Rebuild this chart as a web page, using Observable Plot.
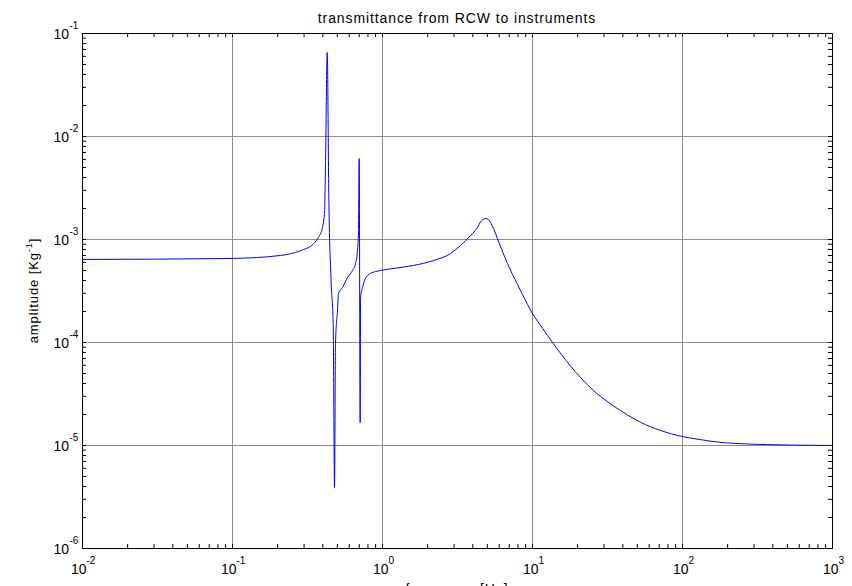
<!DOCTYPE html>
<html>
<head>
<meta charset="utf-8">
<script src="https://cdn.jsdelivr.net/npm/d3@7"></script>
<script src="https://cdn.jsdelivr.net/npm/@observablehq/plot@0.6"></script>
<style>
  html, body { margin: 0; padding: 0; background: #fff; overflow: hidden; }
  #chart svg { display: block; }
</style>
</head>
<body>
<div id="chart"></div>
<script>
// ---- data ----
const freq = [0.01, 0.1, 0.209, 0.284, 0.347, 0.374, 0.398, 0.411, 0.417, 0.428,
  0.439, 0.455, 0.469, 0.479, 0.486, 0.501, 0.509, 0.541, 0.585, 0.631,
  0.661, 0.681, 0.692, 0.699, 0.710, 0.714, 0.736, 0.770, 0.832, 0.97,
  1.18, 1.61, 2.19, 2.84, 3.31, 3.86, 4.30, 4.50, 4.64, 4.86,
  5.09, 5.25, 5.50, 5.84, 6.31, 6.81, 7.36, 7.94, 8.58, 10,
  11.7, 13.6, 17.9, 20.9, 25.5, 28.4, 34.7, 43.0, 52.5, 71.3,
  100, 132, 171, 219, 369, 1000];
const amp = [6.40e-4, 6.55e-4, 7.0e-4, 7.8e-4, 9.1e-4, 1.05e-3, 1.31e-3, 1.91e-3, 5.47e-3, 6.54e-2,
  2.39e-3, 3.74e-4, 1.53e-4, 3.91e-6, 9.8e-5, 2.05e-4, 3.0e-4, 3.42e-4, 4.28e-4, 5.0e-4,
  5.85e-4, 7.8e-4, 1.22e-3, 6.1e-3, 1.67e-5, 2.73e-4, 3.42e-4, 4.18e-4, 4.68e-4, 5.0e-4,
  5.23e-4, 5.6e-4, 6.25e-4, 7.3e-4, 8.75e-4, 1.09e-3, 1.31e-3, 1.48e-3, 1.55e-3, 1.6e-3,
  1.56e-3, 1.46e-3, 1.28e-3, 1.02e-3, 7.64e-4, 5.85e-4, 4.57e-4, 3.66e-4, 2.92e-4, 1.91e-4,
  1.37e-4, 1.0e-4, 5.93e-5, 4.57e-5, 3.42e-5, 3.0e-5, 2.42e-5, 1.98e-5, 1.68e-5, 1.4e-5,
  1.22e-5, 1.14e-5, 1.08e-5, 1.05e-5, 1.02e-5, 1.0e-5];

const xMajor = [1e-2, 1e-1, 1e0, 1e1, 1e2, 1e3];
const xExp = ["-2", "-1", "0", "1", "2", "3"];
const yMajor = [1e-1, 1e-2, 1e-3, 1e-4, 1e-5, 1e-6];
const yExp = ["-1", "-2", "-3", "-4", "-5", "-6"];

const title = "transmittance from RCW to instruments";
const xLabel = "frequency [Hz]";
const yLabelMain = "amplitude [Kg";
const yLabelSup = "-1";
const yLabelEnd = "]";

// ---- layout ----
const W = 852, H = 586;
const mL = 82, mR = 20, mT = 33, mB = 38;
const plotW = W - mL - mR, plotH = H - mT - mB;
const tickLen = 4;
const font = "'Liberation Sans', Arial, Helvetica, sans-serif";

const data = freq.map((f, i) => ({f, a: amp[i]}));
const xDomain = [1e-2, 1e3], yDomain = [1e-6, 1e-1];
const xTicks = d3.scaleLog().domain(xDomain).ticks();
const yTicks = d3.scaleLog().domain(yDomain).ticks();

const xNeg = xMajor.map((v, i) => ({v, e: xExp[i]})).filter(d => d.e.startsWith("-"));
const xPos = xMajor.map((v, i) => ({v, e: xExp[i]})).filter(d => !d.e.startsWith("-"));
const yLab = yMajor.map((v, i) => ({v, e: yExp[i]}));

const gridColor = "#8c8c8c";

const chart = Plot.plot({
  width: W, height: H,
  marginLeft: mL, marginRight: mR, marginTop: mT, marginBottom: mB,
  style: {fontFamily: font, background: "white", overflow: "visible"},
  x: {type: "log", domain: xDomain, axis: null},
  y: {type: "log", domain: yDomain, axis: null},
  marks: [
    // grid at decades
    Plot.ruleX(xMajor, {x: d => d, stroke: gridColor, strokeWidth: 1}),
    Plot.ruleY(yMajor, {y: d => d, stroke: gridColor, strokeWidth: 1}),
    // inward ticks on all four sides
    Plot.ruleX(xTicks, {x: d => d, stroke: "black", insetTop: plotH - tickLen}),
    Plot.ruleX(xTicks, {x: d => d, stroke: "black", insetBottom: plotH - tickLen}),
    Plot.ruleY(yTicks, {y: d => d, stroke: "black", insetRight: plotW - tickLen}),
    Plot.ruleY(yTicks, {y: d => d, stroke: "black", insetLeft: plotW - tickLen}),
    // data line
    Plot.line(data, {x: "f", y: "a", stroke: "#0000ff", strokeWidth: 1, curve: "monotone-x"}),
    Plot.frame({stroke: "black", strokeWidth: 1}),
    // x tick labels
    Plot.text(xNeg, {x: "v", frameAnchor: "bottom", text: () => "10", fontSize: 14, textAnchor: "end", lineAnchor: "middle", dx: 4, dy: 21, fill: "black"}),
    Plot.text(xNeg, {x: "v", frameAnchor: "bottom", text: "e", fontSize: 10, textAnchor: "start", lineAnchor: "middle", dx: 4, dy: 12, fill: "black"}),
    Plot.text(xPos, {x: "v", frameAnchor: "bottom", text: () => "10", fontSize: 14, textAnchor: "end", lineAnchor: "middle", dx: 6, dy: 21, fill: "black"}),
    Plot.text(xPos, {x: "v", frameAnchor: "bottom", text: "e", fontSize: 10, textAnchor: "start", lineAnchor: "middle", dx: 6, dy: 12, fill: "black"}),
    // y tick labels
    Plot.text(yLab, {y: "v", frameAnchor: "left", text: () => "10", fontSize: 14, textAnchor: "end", lineAnchor: "middle", dx: -13.5, dy: 1, fill: "black"}),
    Plot.text(yLab, {y: "v", frameAnchor: "left", text: "e", fontSize: 10, textAnchor: "start", lineAnchor: "middle", dx: -13, dy: -8, fill: "black"})
  ]
});

const svg = d3.select(chart);
// title
svg.append("text")
  .attr("x", mL + plotW / 2).attr("y", 22.5)
  .attr("text-anchor", "middle")
  .attr("font-family", font).attr("font-size", 14)
  .attr("letter-spacing", "0.9px")
  .attr("fill", "black")
  .text(title);
// x label (partly below the window, as in the reference)
svg.append("text")
  .attr("x", mL + plotW / 2).attr("y", 594)
  .attr("text-anchor", "middle")
  .attr("font-family", font).attr("font-size", 14)
  .attr("letter-spacing", "0.9px")
  .attr("fill", "black")
  .text(xLabel);
// y label with superscript
const yl = svg.append("text")
  .attr("transform", `translate(38,${mT + plotH / 2}) rotate(-90)`)
  .attr("text-anchor", "middle")
  .attr("font-family", font).attr("font-size", 13)
  .attr("letter-spacing", "0.9px")
  .attr("fill", "black");
yl.append("tspan").text(yLabelMain);
yl.append("tspan").attr("font-size", 9).attr("dy", -6).text(yLabelSup);
yl.append("tspan").attr("dy", 6).text(yLabelEnd);

document.getElementById("chart").appendChild(chart);
</script>
</body>
</html>
